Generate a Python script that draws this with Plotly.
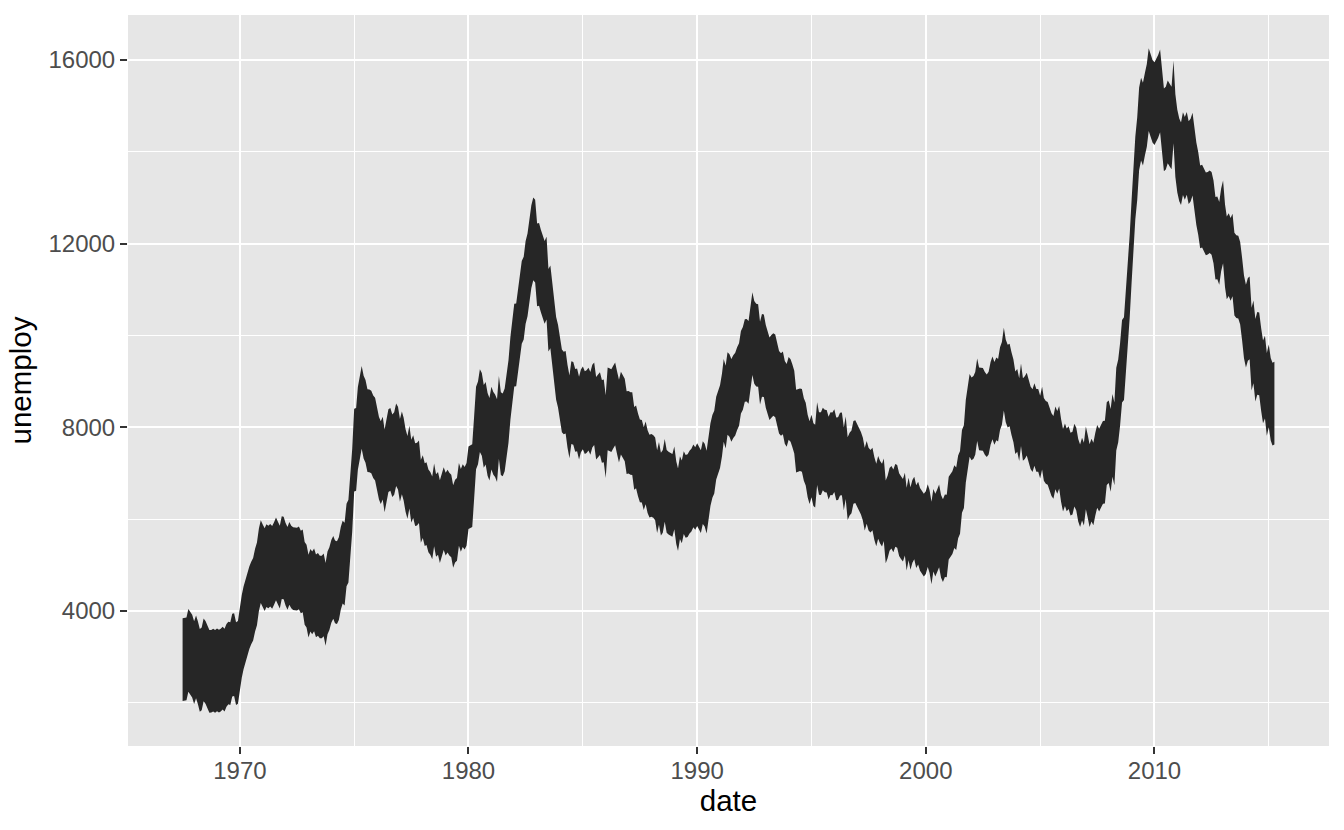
import pandas as pd
import plotly.graph_objects as go

# Monthly unemployment (thousands), 1967-07 .. 2015-04
unemploy = [
    2944, 2945, 2958, 3143, 3066, 3018,
    2878, 3001, 2877, 2709, 2740, 2938, 2883, 2768, 2686, 2689, 2715, 2685,
    2718, 2692, 2712, 2758, 2713, 2816, 2868, 2856, 3040, 3049, 2856, 2884,
    3201, 3453, 3635, 3797, 3919, 4071, 4175, 4256, 4456, 4591, 4898, 5076,
    4986, 4903, 4987, 4959, 4996, 4949, 5035, 5134, 5042, 4954, 5161, 5154,
    5019, 4928, 5038, 4959, 4922, 4923, 4913, 4939, 4849, 4875, 4602, 4543,
    4326, 4452, 4394, 4459, 4329, 4363, 4305, 4305, 4350, 4144, 4396, 4489,
    4644, 4731, 4634, 4618, 4705, 4927, 5063, 5022, 5437, 5523, 6140, 6636,
    7501, 7520, 7978, 8210, 8433, 8220, 8127, 7928, 7923, 7897, 7794, 7744,
    7534, 7326, 7230, 7330, 7053, 7322, 7490, 7518, 7380, 7430, 7620, 7545,
    7280, 7443, 7307, 7059, 6911, 7134, 6829, 6925, 6751, 6763, 6815, 6386,
    6489, 6318, 6337, 6180, 6127, 6028, 6309, 6080, 6125, 5947, 6077, 6228,
    6109, 6173, 6109, 6069, 5840, 5959, 5996, 6320, 6190, 6296, 6238, 6325,
    6683, 6702, 6729, 7358, 7984, 8098, 8363, 8281, 8021, 8088, 7844, 7740,
    7982, 7869, 7815, 7709, 8216, 7862, 7834, 7943, 8252, 8561, 9071, 9482,
    9787, 9794, 10067, 10413, 10721, 10810, 11148, 11316, 11649, 11934, 12101, 12051,
    11534, 11545, 11408, 11268, 11154, 11246, 10548, 10623, 10282, 9887, 9499, 9331,
    9008, 8791, 8746, 8762, 8456, 8226, 8537, 8519, 8367, 8381, 8198, 8358,
    8423, 8321, 8339, 8395, 8302, 8460, 8513, 8196, 8248, 8298, 8128, 8138,
    7795, 8402, 8383, 8364, 8439, 8508, 8319, 8135, 8310, 8243, 8159, 7883,
    7892, 7865, 7862, 7542, 7574, 7398, 7268, 7261, 7102, 7227, 7035, 6936,
    6953, 6929, 6876, 6601, 6779, 6546, 6605, 6843, 6604, 6568, 6537, 6518,
    6682, 6359, 6205, 6468, 6375, 6577, 6495, 6511, 6590, 6630, 6725, 6667,
    6752, 6651, 6598, 6797, 6742, 6590, 6922, 7188, 7368, 7459, 7764, 7901,
    8015, 8265, 8586, 8439, 8736, 8692, 8586, 8666, 8722, 8842, 8931, 9198,
    9283, 9454, 9460, 9415, 9744, 10040, 9850, 9787, 9781, 9398, 9565, 9557,
    9325, 9183, 9056, 9110, 9149, 9121, 8930, 8763, 8714, 8750, 8542, 8477,
    8630, 8583, 8470, 8331, 7915, 7927, 7946, 7933, 7734, 7632, 7375, 7230,
    7375, 7187, 7153, 7645, 7430, 7427, 7527, 7484, 7478, 7328, 7426, 7423,
    7491, 7313, 7318, 7415, 7423, 7095, 7337, 6882, 6979, 7031, 7236, 7253,
    7158, 7102, 7000, 6873, 6655, 6799, 6655, 6608, 6656, 6454, 6308, 6476,
    6368, 6306, 6422, 5941, 6047, 6212, 6259, 6179, 6300, 6280, 6100, 6032,
    5976, 6111, 5783, 6004, 5796, 5951, 6025, 5838, 5915, 5778, 5716, 5653,
    5708, 5858, 5733, 5481, 5758, 5651, 5747, 5853, 5625, 5534, 5639, 5634,
    6023, 6089, 6141, 6271, 6226, 6484, 6583, 7042, 7142, 7694, 8003, 8258,
    8182, 8215, 8304, 8599, 8399, 8393, 8390, 8304, 8251, 8307, 8520, 8640,
    8520, 8618, 8588, 8842, 8957, 9266, 9011, 8896, 8921, 8732, 8576, 8317,
    8370, 8167, 8491, 8170, 8212, 8286, 8136, 7990, 7927, 8061, 7932, 7934,
    7784, 7980, 7737, 7672, 7651, 7524, 7406, 7345, 7553, 7453, 7566, 7279,
    7064, 7184, 7072, 7120, 6980, 7001, 7175, 7091, 6847, 6727, 6872, 6762,
    7116, 6927, 6731, 6850, 6766, 6979, 7149, 7067, 7170, 7237, 7240, 7645,
    7685, 7497, 7822, 7637, 8395, 8575, 8937, 9438, 9494, 10074, 10538, 11286,
    12058, 12898, 13426, 13853, 14499, 14707, 14601, 14814, 15009, 15352, 15219, 15098,
    15046, 15113, 15202, 15325, 14849, 14474, 14512, 14648, 14579, 14516, 15081, 14348,
    14013, 13820, 13737, 13957, 13855, 13962, 13763, 13818, 13948, 13594, 13302, 13093,
    12797, 12813, 12713, 12646, 12660, 12692, 12656, 12471, 12115, 12124, 12005, 12298,
    12471, 11950, 11689, 11760, 11654, 11751, 11335, 11279, 11270, 11136, 10787, 10404,
    10202, 10349, 10380, 9702, 9859, 9460, 9608, 9599, 9262, 8990, 9090, 8717,
    8903, 8610, 8504, 8526,
]
start_month = "1967-07-01"
band = 900
y_ticks = [4000, 8000, 12000, 16000]
x_tick_years = ["1970", "1980", "1990", "2000", "2010"]

dates = pd.date_range(start_month, periods=len(unemploy), freq="MS")
lo = [u - band for u in unemploy]
hi = [u + band for u in unemploy]

# ggplot-style 5% expansion
ymin, ymax = min(lo), max(hi)
yr = [ymin - 0.05 * (ymax - ymin), ymax + 0.05 * (ymax - ymin)]
span = dates[-1] - dates[0]
xr = [dates[0] - 0.05 * span, dates[-1] + 0.05 * span]

fill = "#262626"
fig = go.Figure()
fig.add_trace(go.Scatter(x=dates, y=lo, mode="lines", line=dict(width=0, color=fill),
                         showlegend=False, hoverinfo="skip"))
fig.add_trace(go.Scatter(x=dates, y=hi, mode="lines", line=dict(width=0, color=fill),
                         fill="tonexty", fillcolor=fill, showlegend=False))

tick_font = dict(family="Liberation Sans, Arial, sans-serif", size=24, color="#4D4D4D")
title_font = dict(family="Liberation Sans, Arial, sans-serif", size=29.5, color="black")

fig.update_layout(
    width=1344, height=830, autosize=False,
    margin=dict(l=128, r=15, t=15, b=84),
    paper_bgcolor="white", plot_bgcolor="#E6E6E6",
    xaxis=dict(
        type="date", range=xr,
        tickvals=[y + "-01-01" for y in x_tick_years], ticktext=x_tick_years,
        showgrid=True, gridcolor="white", gridwidth=2.2,
        minor=dict(dtick="M60", tick0="1965-01-01", showgrid=True,
                   gridcolor="white", gridwidth=1.1, ticks=""),
        ticks="outside", ticklen=7, tickwidth=2.2, tickcolor="#333333",
        ticklabelstandoff=-4,
        tickfont=tick_font, zeroline=False, showline=False,
        title=dict(text="date", font=title_font, standoff=3),
    ),
    yaxis=dict(
        range=yr, tickvals=y_ticks, ticktext=[str(v) for v in y_ticks],
        showgrid=True, gridcolor="white", gridwidth=2.2,
        minor=dict(dtick=2000, tick0=0, showgrid=True,
                   gridcolor="white", gridwidth=1.1, ticks=""),
        ticks="outside", ticklen=7, tickwidth=2.2, tickcolor="#333333",
        tickfont=tick_font, zeroline=False, showline=False,
        title=dict(text="unemploy", font=title_font, standoff=8),
    ),
)

fig.write_html("out.html", config={"displayModeBar": False})

# remove the browser's default page margin so the figure sits at (0, 0)
with open("out.html", encoding="utf-8") as f:
    html = f.read()
html = html.replace("<head>", "<head><style>html,body{margin:0;padding:0;}</style>", 1)
with open("out.html", "w", encoding="utf-8") as f:
    f.write(html)
